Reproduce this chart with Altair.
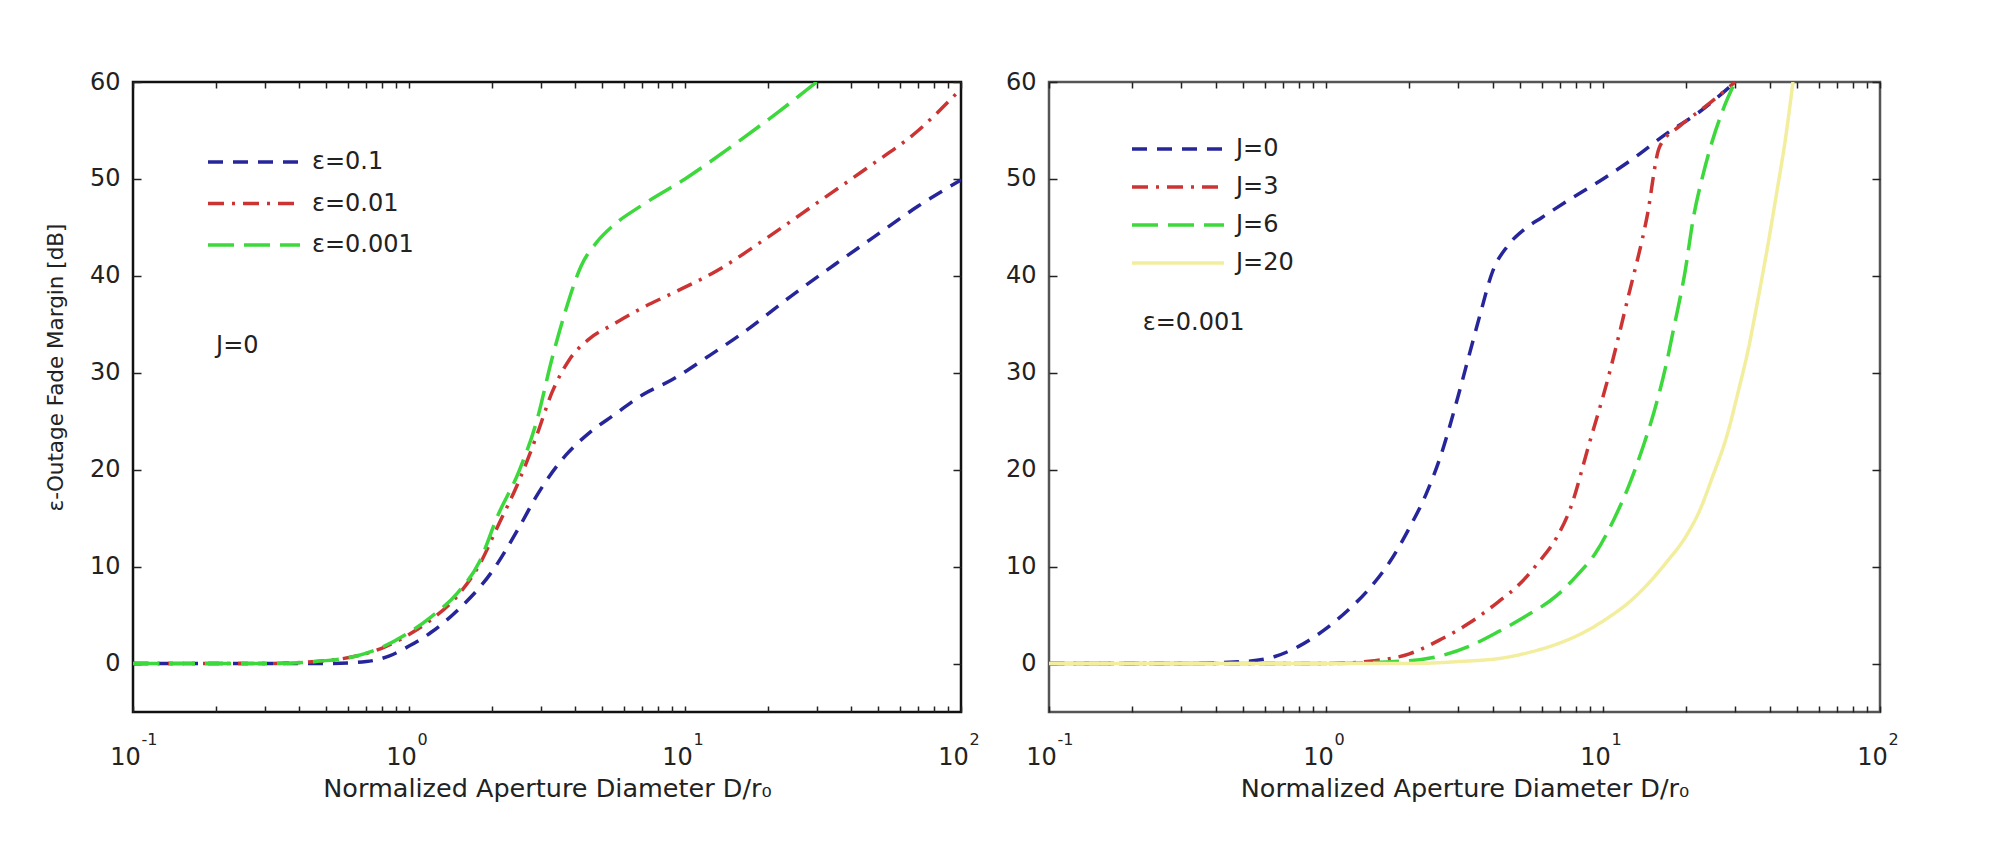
import altair as alt
import pandas as pd

FONT = "DejaVu Sans"

# ---------------- left panel (J=0), curves for several epsilon ----------------
eps_names = ["ε=0.1", "ε=0.01", "ε=0.001"]
eps_colors = ["#26269a", "#cc3434", "#3cd83c"]
eps_dashes = [[15, 10], [16, 8, 3, 8], [26, 10]]

eps1_D = [0.1, 0.3, 0.5, 0.7, 0.85, 1.0, 1.2, 1.5, 2.0, 2.5, 2.9, 3.7, 4.5, 5.5, 7, 9, 12, 16, 25, 35, 50, 70, 100]
eps1_M = [0, 0, 0, 0.2, 0.8, 1.8, 3.2, 5.5, 9.5, 14, 17.3, 21.5, 23.8, 25.6, 27.7, 29.3, 31.6, 34.0, 38.2, 41.2, 44.3, 47.2, 49.9]

eps2_D = [0.1, 0.3, 0.5, 0.65, 0.8, 1.0, 1.2, 1.5, 1.8, 2.1, 2.5, 2.9, 3.3, 3.8, 4.5, 5.5, 7, 9, 13, 20, 30, 45, 70, 100]
eps2_M = [0, 0, 0.3, 0.8, 1.6, 3.0, 4.5, 7.0, 10.2, 14.2, 18.8, 23.5, 28, 31.3, 33.5, 35, 36.7, 38.2, 40.5, 44, 47.5, 51, 55, 59.3]

eps3_D = [0.1, 0.3, 0.5, 0.65, 0.8, 1.0, 1.2, 1.5, 1.8, 2.1, 2.5, 2.9, 3.3, 3.7, 4.2, 4.8, 5.5, 7, 10, 15, 22, 30]
eps3_M = [0, 0, 0.3, 0.8, 1.7, 3.2, 4.8, 7.3, 10.5, 15.3, 19.8, 25, 31.5, 36.5, 41, 43.5, 45.2, 47.3, 50, 53.5, 57, 60]

# ---------------- right panel (eps=0.001), curves for several J ----------------
J_names = ["J=0", "J=3", "J=6", "J=20"]
J_colors = ["#26269a", "#cc3434", "#3cd83c", "#f2ee9e"]
J_dashes = [[15, 10], [16, 8, 3, 8], [26, 10], [1, 0]]

J0_D = [0.1, 0.3, 0.5, 0.65, 0.8, 1.0, 1.2, 1.4, 1.7, 2.0, 2.3, 2.6, 3.0, 3.3, 3.6, 4.0, 4.5, 5.2, 6, 7.5, 10, 13, 17, 22, 30]
J0_M = [0, 0, 0.2, 0.7, 1.8, 3.6, 5.5, 7.4, 10.5, 14, 17.5, 21.5, 27.6, 32, 36, 40.5, 43, 44.8, 46, 47.8, 50, 52.2, 54.7, 56.8, 60]

J3_D = [0.1, 0.5, 1.0, 1.5, 2.0, 2.6, 3.3, 4.2, 5.0, 5.8, 6.8, 7.6, 8.9, 10.4, 12.3, 14.4, 16, 19, 23, 30]
J3_M = [0, 0, 0, 0.3, 1.0, 2.5, 4.2, 6.4, 8.2, 10.3, 13, 15.9, 22.6, 29.3, 37.7, 46, 53.3, 55.5, 57.3, 60]

J6_D = [0.1, 1.0, 2.0, 2.6, 3.3, 4.2, 5.2, 6.8, 8, 9.4, 11, 12.3, 14, 15.3, 16.8, 18.1, 19.8, 21.2, 23, 24.8, 27, 30]
J6_M = [0, 0, 0.3, 0.8, 1.8, 3.3, 4.8, 7.0, 9.0, 11.4, 15, 18.1, 22.5, 26, 30.5, 34.9, 40.5, 46, 50.5, 53.9, 57, 60]

J20_D = [0.1, 1, 2, 3, 4.4, 5.5, 6.8, 8.5, 10.4, 12.5, 14.4, 17, 19.9, 22.5, 24.8, 28, 30.8, 33.5, 36, 39, 42.5, 45.5, 48.5]
J20_M = [0, 0, 0, 0.2, 0.6, 1.2, 2.0, 3.2, 4.7, 6.4, 8.1, 10.5, 13.1, 16, 19.2, 23.5, 28.1, 32.5, 37.1, 42.5, 48.8, 54, 60]

# ---------------- axes / text ----------------
x_tick_values = [0.1, 1, 10, 100]
x_tick_base = ["10", "10", "10", "10"]
x_tick_exps = ["-1", "0", "1", "2"]
x_minor_values = [0.1, 0.2, 0.3, 0.4, 0.5, 0.6, 0.7, 0.8, 0.9,
                  1, 2, 3, 4, 5, 6, 7, 8, 9,
                  10, 20, 30, 40, 50, 60, 70, 80, 90, 100]
y_tick_values = [0, 10, 20, 30, 40, 50, 60]
x_title = "Normalized Aperture Diameter D/r₀"
y_title = "ε-Outage Fade Margin [dB]"

left_note_text = ["J=0"]
left_note_D = [0.2]
left_note_M = [32.8]
right_note_text = ["ε=0.001"]
right_note_D = [0.218]
right_note_M = [35.1]

H = 630


def long_df(names, xs, ys):
    rows = []
    for n, xv, yv in zip(names, xs, ys):
        for a, b in zip(xv, yv):
            rows.append({"series": n, "D": a, "M": b})
    return pd.DataFrame(rows)


def expr_from(values, labels):
    vals = ",".join(repr(float(v)) for v in values)
    labs = ",".join("'" + s + "'" for s in labels)
    return f"[{labs}][indexof([{vals}], datum.value)]"


def panel(df, names, colors, dashes, W, legend_x, legend_y, row_pad, note_df, ytitle, box_color):
    xscale = alt.Scale(type="log", domain=[0.1, 100], nice=False)
    yscale = alt.Scale(domain=[-5, 60], nice=False, zero=False)
    legend = alt.Legend(
        title=None, orient="none", legendX=legend_x, legendY=legend_y,
        symbolType="stroke", symbolSize=8464, symbolStrokeWidth=3.5,
        labelFont=FONT, labelFontSize=24, labelColor="#222222",
        labelOffset=10, rowPadding=row_pad, padding=0, clipHeight=28,
    )
    y_axis_kwargs = dict(
        orient="left", values=y_tick_values, ticks=False, domain=False, grid=False,
        labelFont=FONT, labelFontSize=24, labelColor="#222222", labelPadding=13,
    )
    if ytitle:
        y_axis_kwargs.update(title=ytitle, titleFont=FONT, titleFontSize=21.5,
                             titleFontWeight="normal", titleColor="#222222", titlePadding=22,
                             titleY=285)
    else:
        y_axis_kwargs.update(title=None)

    main = alt.Chart(df).mark_line(clip=True, strokeWidth=3.5, interpolate="monotone").encode(
        x=alt.X("D:Q", scale=xscale, axis=alt.Axis(
            orient="bottom", values=x_tick_values, labelExpr=expr_from(x_tick_values, x_tick_base),
            ticks=False, domain=False, grid=False, labelFlush=False, labelOverlap=False,
            labelFont=FONT, labelFontSize=24, labelColor="#222222", labelPadding=33, labelOffset=-8,
            title=x_title, titleFont=FONT, titleFontSize=25.5, titleFontWeight="normal",
            titleColor="#222222", titlePadding=7)),
        y=alt.Y("M:Q", scale=yscale, axis=alt.Axis(**y_axis_kwargs)),
        color=alt.Color("series:N", scale=alt.Scale(domain=names, range=colors), legend=legend),
        strokeDash=alt.StrokeDash("series:N", scale=alt.Scale(domain=names, range=dashes), legend=legend),
    )

    exps = alt.Chart(df).mark_line(strokeOpacity=0).encode(
        x=alt.X("D:Q", scale=xscale, axis=alt.Axis(
            orient="bottom", values=x_tick_values, labelExpr=expr_from(x_tick_values, x_tick_exps),
            ticks=False, domain=False, grid=False, labelFlush=False, labelOverlap=False,
            labelFont=FONT, labelFontSize=16, labelColor="#222222", labelPadding=19,
            labelAlign="left", labelOffset=8, title=None)),
        y=alt.Y("M:Q", scale=yscale, axis=None),
        detail="series:N",
    )

    tick_style = dict(labels=False, domain=False, grid=False, tickColor="#222222", tickWidth=1.5, title=None)
    ticks_a = alt.Chart(df).mark_line(strokeOpacity=0).encode(
        x=alt.X("D:Q", scale=xscale, axis=alt.Axis(orient="top", offset=-H, values=x_minor_values,
                                                   tickSize=6, **tick_style)),
        y=alt.Y("M:Q", scale=yscale, axis=alt.Axis(orient="right", offset=-W, values=y_tick_values,
                                                   tickSize=8, **tick_style)),
        detail="series:N",
    )
    ticks_b = alt.Chart(df).mark_line(strokeOpacity=0).encode(
        x=alt.X("D:Q", scale=xscale, axis=alt.Axis(orient="bottom", offset=-H, values=x_minor_values,
                                                   tickSize=6, **tick_style)),
        y=alt.Y("M:Q", scale=yscale, axis=alt.Axis(orient="left", offset=-W, values=y_tick_values,
                                                   tickSize=8, **tick_style)),
        detail="series:N",
    )

    note = alt.Chart(note_df).mark_text(
        font=FONT, fontSize=24, color="#222222", align="left", baseline="middle"
    ).encode(
        x=alt.X("D:Q", scale=xscale, axis=None),
        y=alt.Y("M:Q", scale=yscale, axis=None),
        text="text:N",
    )

    return alt.layer(ticks_a, ticks_b, exps, main, note).resolve_axis(
        x="independent", y="independent"
    ).properties(
        width=W, height=H,
        view=alt.ViewBackground(stroke=box_color, strokeWidth=2.5, fill="white"),
    )


left_df = long_df(eps_names, [eps1_D, eps2_D, eps3_D], [eps1_M, eps2_M, eps3_M])
right_df = long_df(J_names, [J0_D, J3_D, J6_D, J20_D], [J0_M, J3_M, J6_M, J20_M])
left_note = pd.DataFrame({"text": left_note_text, "D": left_note_D, "M": left_note_M})
right_note = pd.DataFrame({"text": right_note_text, "D": right_note_D, "M": right_note_M})

left = panel(left_df, eps_names, eps_colors, eps_dashes, 828, 73, 66, 13.5, left_note, y_title, "#111111")
right = panel(right_df, J_names, J_colors, J_dashes, 831, 81, 53, 10, right_note, None, "#555555")

chart = alt.hconcat(left, right, spacing=23).resolve_scale(
    color="independent", strokeDash="independent"
).resolve_legend(
    color="independent", strokeDash="independent"
).properties(
    padding={"left": 44, "top": 68, "right": 10, "bottom": 10},
    background="white",
).configure_view(stroke="#111111")

chart.save("out.html", embed_options={"renderer": "svg", "actions": False})
